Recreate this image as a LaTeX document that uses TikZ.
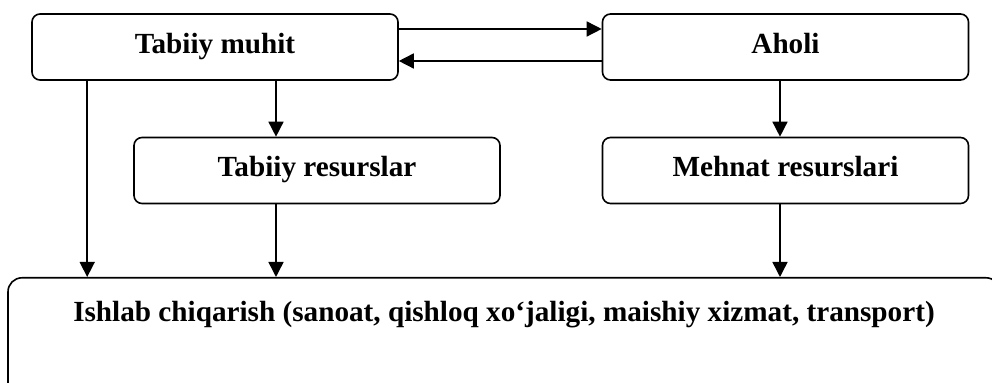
\documentclass[tikz,border=0pt]{standalone}
\usepackage{fontspec}
\setmainfont{Liberation Serif}
\usetikzlibrary{arrows.meta}

\begin{document}
\begin{tikzpicture}[x=0.5pt, y=-0.5pt,
    box/.style={draw, line width=0.8pt, rounded corners=4pt, minimum width=183pt, minimum height=33pt,
                text height=10pt, text depth=3.5pt, font=\fontsize{14.6}{17}\selectfont\bfseries},
    bigbox/.style={draw, line width=0.8pt, rounded corners=7pt, minimum width=496pt, anchor=north,
                   inner ysep=12pt, text height=10pt, text depth=26pt,
                   font=\fontsize{14.6}{17}\selectfont\bfseries},
    link/.style={line width=0.75pt, -{Triangle[length=7.5pt, width=7.5pt]}}]
        % Fix the frame of the picture
        \useasboundingbox (0,0) rectangle (992,383);
        \clip (0,0) rectangle (992,383);

        % Draw the boxes
        \node[box] (muhit) at (215,47) {Tabiiy muhit};
        \node[box] (aholi) at (785.5,47) {Aholi};
        \node[box] (tabres) at (317,170.5) {Tabiiy resurslar};
        \node[box] (mehres) at (785.5,170.5) {Mehnat resurslari};
        \node[bigbox] (ishlab) at (504,277) {Ishlab chiqarish (sanoat, qishloq xo‘jaligi, maishiy xizmat, transport)};

        % Draw the two arrows between the upper boxes
        \draw[link] ([yshift=9pt]muhit.east) -- ([yshift=9pt]aholi.west);
        \draw[link] ([yshift=-7pt]aholi.west) -- ([yshift=-7pt]muhit.east);

        % Draw the arrows going down
        \draw[link] ([xshift=28pt]muhit.south west) -- ([xshift=28pt]muhit.south west |- ishlab.north);
        \draw[link] ([xshift=30.5pt]muhit.south) -- ([xshift=30.5pt]muhit.south |- tabres.north);
        \draw[link] ([xshift=30.5pt]muhit.south |- tabres.south) -- ([xshift=30.5pt]muhit.south |- ishlab.north);
        \draw[link] ([xshift=-2.75pt]aholi.south) -- ([xshift=-2.75pt]aholi.south |- mehres.north);
        \draw[link] ([xshift=-2.75pt]aholi.south |- mehres.south) -- ([xshift=-2.75pt]aholi.south |- ishlab.north);
\end{tikzpicture}
\end{document}
